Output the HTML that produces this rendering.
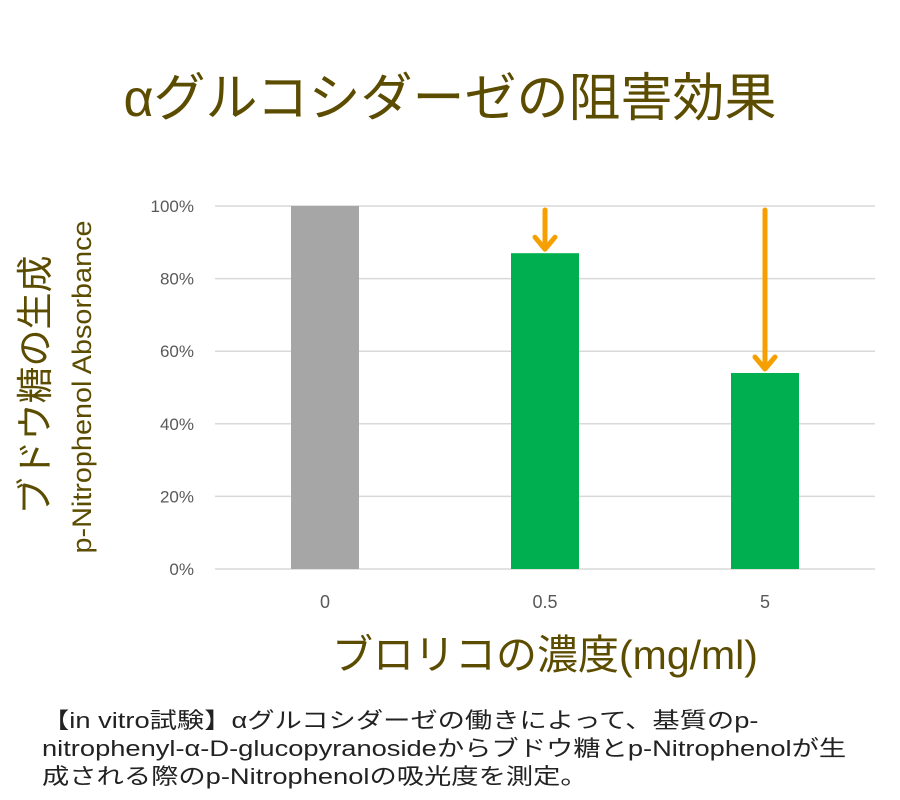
<!DOCTYPE html>
<html><head><meta charset="utf-8"><style>
body{margin:0;width:900px;height:800px;background:#fff;overflow:hidden;font-family:"Liberation Sans","Noto Sans CJK JP",sans-serif}
.t{position:absolute;color:#5b4c00}
</style></head><body>
<div class="t" style="left:0;width:900px;top:67px;text-align:center;font-size:52px;line-height:64px">αグルコシダーゼの阻害効果</div>
<svg width="900" height="800" style="position:absolute;left:0;top:0">
<g id="grid"></g><g id="bars"></g><g id="arrows"></g>
<text transform="translate(48,385) rotate(-90)" text-anchor="middle" font-size="37" fill="#5b4c00" font-family="Liberation Sans,Noto Sans CJK JP,sans-serif">ブドウ糖の生成</text>
<text transform="translate(91,387) rotate(-90)" text-anchor="middle" font-size="27" fill="#5b4c00" font-family="Liberation Sans,sans-serif" textLength="333" lengthAdjust="spacingAndGlyphs">p-Nitrophenol Absorbance</text>
</svg>
<div class="t" style="left:200px;width:690px;top:628px;text-align:center;font-size:41px;line-height:54px">ブロリコの濃度(mg/ml)</div>
<div style="position:absolute;left:42px;top:707px;font-size:22px;line-height:28px;color:#222;white-space:nowrap;transform:scaleX(1.24);transform-origin:0 0">【in vitro試験】αグルコシダーゼの働きによって、基質のp-<br>nitrophenyl-α-D-glucopyranosideからブドウ糖とp-Nitrophenolが生<br>成される際のp-Nitrophenolの吸光度を測定。</div>
<script>
const categories=["0","0.5","5"];
const values=[100,87,54];
const colors=["#a6a6a6","#00b050","#00b050"];
const ticks=[0,20,40,60,80,100];
const NS="http://www.w3.org/2000/svg";
const x0=215,x1=875,yTop=206,yBot=569;
const y=v=>yBot-(v/100)*(yBot-yTop);
const bw=(x1-x0)/categories.length;
const xc=i=>x0+bw*(i+0.5);
function mk(t,a,p){const e=document.createElementNS(NS,t);for(const k in a)e.setAttribute(k,a[k]);p.appendChild(e);return e;}
const g=document.getElementById('grid');
ticks.forEach(t=>{
 const l=mk('line',{x1:x0,x2:x1,y1:y(t),y2:y(t),stroke:'#d9d9d9','stroke-width':1.5},g);
 
 
 const tx=mk('text',{x:194,y:y(t)+6,'text-anchor':'end','font-size':17,fill:'#595959'},g);
 tx.textContent=t+'%';
 
 
});
const b=document.getElementById('bars');
categories.forEach((c,i)=>{
 const r=mk('rect',{x:xc(i)-34,y:y(values[i]),width:68,height:yBot-y(values[i]),fill:colors[i]},b);
 
 
 const tx=mk('text',{x:xc(i),y:608,'text-anchor':'middle','font-size':18,fill:'#595959'},b);
 tx.textContent=c;
 
 
});
const a=document.getElementById('arrows');
for(let i=1;i<categories.length;i++){
 const X=xc(i),Y=y(values[i])-4;
 const p=mk('path',{d:`M${X},210 L${X},${Y} M${X-10},${Y-12} L${X},${Y} L${X+10},${Y-12}`,stroke:'#f5a000','stroke-width':5,fill:'none','stroke-linecap':'round','stroke-linejoin':'round'},a);
 
 
}
</script>
</body></html>
